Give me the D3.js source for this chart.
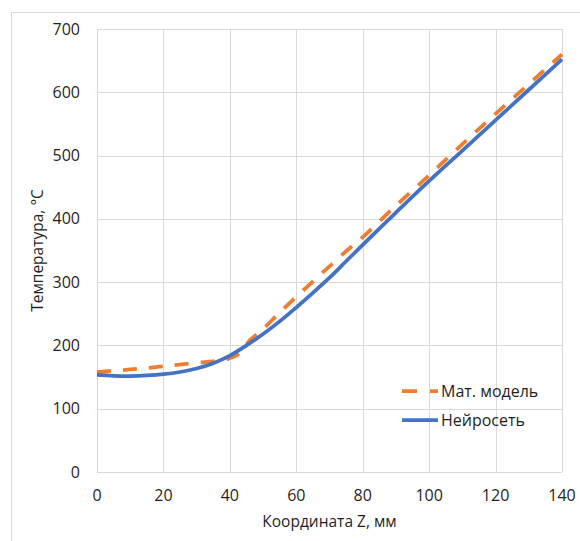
<!DOCTYPE html>
<html>
<head>
  <meta charset="utf-8">
  <script src="https://cdn.jsdelivr.net/npm/d3@7"></script>
  <style type="text/css">
    body { margin: 0; background: #fff; }
    text { font-family: 'Open Sans', sans-serif; fill: #1f1f1f; }
  </style>
</head>
<body>
  <div id="chart"></div>
  <script type="text/javascript">
    // values
    var zMath = [0, 10, 20, 30, 35, 38, 40, 42, 44, 46, 48, 50, 55, 60, 65, 70, 75, 80, 90, 100, 110, 120, 130, 140];
    var tMath = [158, 162, 167, 172.5, 175, 177, 180, 184, 195, 208, 217, 226, 252, 277, 301, 325, 349, 371, 421, 469, 518, 566, 613, 660];
    var zNet = [0, 5, 10, 15, 20, 25, 30, 35, 40, 45, 50, 55, 60, 65, 70, 75, 80, 90, 100, 110, 120, 130, 140];
    var tNet = [153.5, 152, 151.5, 152.5, 154.5, 158, 163.5, 172, 184, 200, 218, 238, 260, 283, 307, 333, 359, 410, 460, 508, 556, 604, 652];
    var xTicks = [0, 20, 40, 60, 80, 100, 120, 140];
    var yTicks = [0, 100, 200, 300, 400, 500, 600, 700];
    var seriesNames = ['Мат. модель', 'Нейросеть'];

    var width = 580, height = 541;
    var margin = {left: 97, right: 18, top: 29, bottom: 69};

    var svg = d3.select('#chart').append('svg')
        .attr('width', width)
        .attr('height', height);

    // chart area border
    svg.append('path')
        .attr('d', 'M11.5,' + height + 'V12.5H' + width)
        .attr('fill', 'none')
        .attr('stroke', '#d9d9d9');

    var x = d3.scaleLinear().domain([0, 140]).range([margin.left, width - margin.right]);
    var y = d3.scaleLinear().domain([0, 700]).range([height - margin.bottom, margin.top]);

    // grid
    svg.append('g').selectAll('line').data(xTicks).enter().append('line')
        .attr('x1', function(d) { return Math.round(x(d)) + 0.5; })
        .attr('x2', function(d) { return Math.round(x(d)) + 0.5; })
        .attr('y1', y(0)).attr('y2', y(700))
        .attr('stroke', '#d9d9d9');
    svg.append('g').selectAll('line').data(yTicks).enter().append('line')
        .attr('y1', function(d) { return Math.round(y(d)) + 0.5; })
        .attr('y2', function(d) { return Math.round(y(d)) + 0.5; })
        .attr('x1', x(0)).attr('x2', x(140))
        .attr('stroke', '#d9d9d9');

    // tick labels
    svg.append('g').selectAll('text').data(yTicks).enter().append('text')
        .attr('x', 80)
        .attr('y', function(d) { return y(d); })
        .attr('dy', '0.35em')
        .style('text-anchor', 'end')
        .style('font-size', '16px')
        .text(function(d) { return d; });
    svg.append('g').selectAll('text').data(xTicks).enter().append('text')
        .attr('x', function(d) { return x(d); })
        .attr('y', 501)
        .style('text-anchor', 'middle')
        .style('font-size', '16px')
        .text(function(d) { return d; });

    // axis titles
    svg.append('text')
        .attr('x', (x(0) + x(140)) / 2)
        .attr('y', 527)
        .style('text-anchor', 'middle')
        .style('font-size', '15.5px')
        .text('Координата Z, мм');
    svg.append('text')
        .attr('transform', 'translate(43,' + ((y(0) + y(700)) / 2) + ') rotate(-90)')
        .style('text-anchor', 'middle')
        .style('font-size', '15.5px')
        .text('Температура, °С');

    var line = d3.line()
        .x(function(d) { return x(d[0]); })
        .y(function(d) { return y(d[1]); })
        .curve(d3.curveCatmullRom);

    svg.append('path')
        .datum(d3.zip(zMath, tMath))
        .attr('d', line)
        .attr('fill', 'none')
        .attr('stroke', '#ed7d31')
        .attr('stroke-width', 3.75)
        .attr('stroke-dasharray', '14,12');

    svg.append('path')
        .datum(d3.zip(zNet, tNet))
        .attr('d', line)
        .attr('fill', 'none')
        .attr('stroke', '#4472c4')
        .attr('stroke-width', 3.75);

    // legend
    var legend = svg.append('g');
    var styles = [{c: '#ed7d31', dash: '15,13'}, {c: '#4472c4', dash: null}];
    seriesNames.forEach(function(name, i) {
      var ly = 391 + i * 29;
      legend.append('line')
          .attr('x1', 402).attr('x2', 438)
          .attr('y1', ly).attr('y2', ly)
          .attr('stroke', styles[i].c)
          .attr('stroke-width', 3.75)
          .attr('stroke-dasharray', styles[i].dash);
      legend.append('text')
          .attr('x', 441)
          .attr('y', ly)
          .attr('dy', '0.35em')
          .style('font-size', '16px')
          .text(name);
    });
  </script>
</body>
</html>
